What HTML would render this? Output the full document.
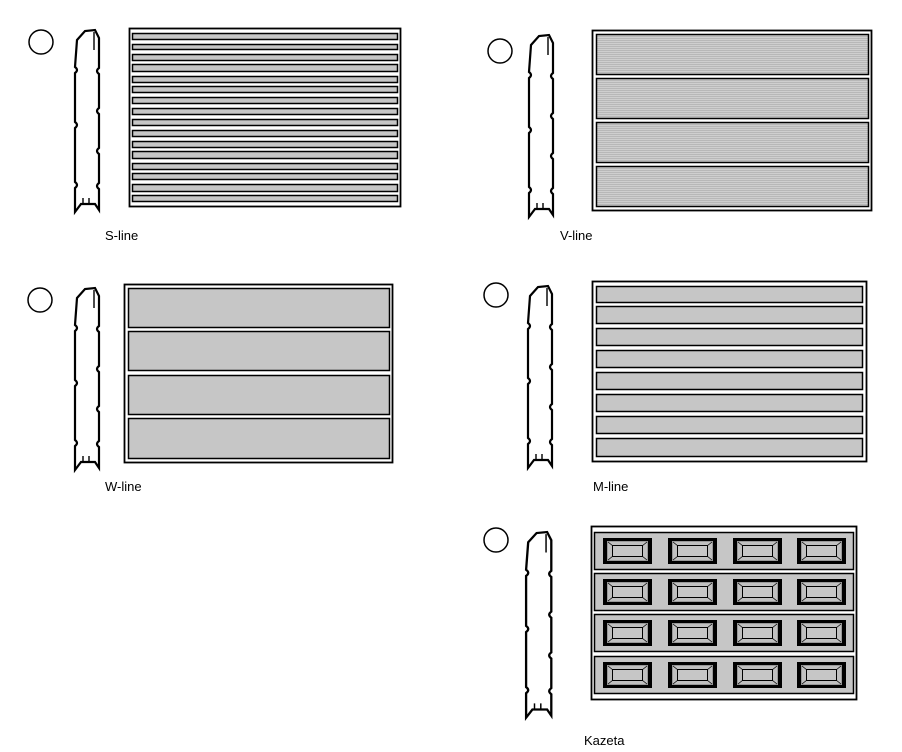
<!DOCTYPE html>
<html><head><style>
html,body{margin:0;padding:0;background:#fff;}
svg{display:block}
text{font-family:"Liberation Sans",sans-serif;font-size:13px;fill:#000}
</style></head><body>
<svg width="902" height="752" viewBox="0 0 902 752" xmlns="http://www.w3.org/2000/svg">
<defs>
<pattern id="ln" width="4" height="2" patternUnits="userSpaceOnUse">
<rect width="4" height="2" fill="#cfcfcf"/><rect width="4" height="1" fill="#b8b8b8"/>
</pattern>
<g id="prof">
<path d="M4,12 L12,3 L22,2 L26,10 L26,40 q-4,3 0,6 L26,80 q-4,3 0,6 L26,120 q-4,3 0,6 L26,155 q-4,3 0,6 L26,182 L22,176 L8,176 L2,184 L2,160 q4,-3 0,-6 L2,100 q4,-3 0,-6 L2,45 q4,-3 0,-6 Z" fill="#fff" stroke="#000" stroke-width="2.2"/>
<path d="M21,4 L21,22 M10,170 L10,176 M16,170 L16,176" stroke="#000" stroke-width="1.4" fill="none"/>
</g>
</defs>
<g fill="#fff" stroke="#000" stroke-width="1.5">
<circle cx="41" cy="42" r="12"/><circle cx="500" cy="51" r="12"/>
<circle cx="40" cy="300" r="12"/><circle cx="496" cy="295" r="12"/>
<circle cx="496" cy="540" r="12"/>
</g>
<use href="#prof" transform="translate(73,28)"/>
<use href="#prof" transform="translate(527,33)"/>
<use href="#prof" transform="translate(73,286)"/>
<use href="#prof" transform="translate(526,284)"/>
<use href="#prof" transform="translate(524,530) scale(1.05,1.02)"/>
<!-- S-line -->
<rect x="129.5" y="28.5" width="271" height="178" fill="#fff" stroke="#000" stroke-width="1.8"/>
<g fill="#c6c6c6" stroke="#000" stroke-width="1.5">
<rect x="132.5" y="33.5" width="265" height="6"/><rect x="132.5" y="44.5" width="265" height="5"/>
<rect x="132.5" y="54.5" width="265" height="6"/><rect x="132.5" y="64.5" width="265" height="7"/>
<rect x="132.5" y="76.5" width="265" height="6"/><rect x="132.5" y="86.5" width="265" height="6"/>
<rect x="132.5" y="97.5" width="265" height="6"/><rect x="132.5" y="108.5" width="265" height="6"/>
<rect x="132.5" y="119.5" width="265" height="6"/><rect x="132.5" y="130.5" width="265" height="6"/>
<rect x="132.5" y="141.5" width="265" height="6"/><rect x="132.5" y="151.5" width="265" height="7"/>
<rect x="132.5" y="163.5" width="265" height="6"/><rect x="132.5" y="173.5" width="265" height="6"/>
<rect x="132.5" y="184.5" width="265" height="7"/><rect x="132.5" y="195.5" width="265" height="6"/>
</g>
<!-- V-line -->
<rect x="592.5" y="30.5" width="279" height="180" fill="#fff" stroke="#000" stroke-width="1.8"/>
<g fill="url(#ln)" stroke="#000" stroke-width="1.5">
<rect x="596.5" y="34.5" width="272" height="40"/><rect x="596.5" y="78.5" width="272" height="40"/>
<rect x="596.5" y="122.5" width="272" height="40"/><rect x="596.5" y="166.5" width="272" height="40"/>
</g>
<!-- W-line -->
<rect x="124.5" y="284.5" width="268" height="178" fill="#fff" stroke="#000" stroke-width="1.8"/>
<g fill="#c6c6c6" stroke="#000" stroke-width="1.5">
<rect x="128.5" y="288.5" width="261" height="39"/><rect x="128.5" y="331.5" width="261" height="39"/>
<rect x="128.5" y="375.5" width="261" height="39"/><rect x="128.5" y="418.5" width="261" height="40"/>
</g>
<!-- M-line -->
<rect x="592.5" y="281.5" width="274" height="180" fill="#fff" stroke="#000" stroke-width="1.8"/>
<g fill="#c6c6c6" stroke="#000" stroke-width="1.5">
<rect x="596.5" y="286.5" width="266" height="16"/><rect x="596.5" y="306.5" width="266" height="17"/>
<rect x="596.5" y="328.5" width="266" height="17"/><rect x="596.5" y="350.5" width="266" height="17"/>
<rect x="596.5" y="372.5" width="266" height="17"/><rect x="596.5" y="394.5" width="266" height="17"/>
<rect x="596.5" y="416.5" width="266" height="17"/><rect x="596.5" y="438.5" width="266" height="18"/>
</g>
<!-- Kazeta -->
<rect x="591.5" y="526.5" width="265" height="173" fill="#fff" stroke="#000" stroke-width="1.8"/>
<g id="krow">
<rect x="594.5" y="532.5" width="259" height="37" fill="#c6c6c6" stroke="#000" stroke-width="1.5"/>
<g id="kc">
<rect x="603" y="538" width="49" height="26" fill="#000"/>
<rect x="607.5" y="541.5" width="40" height="19" fill="#c0c0c0" stroke="#999" stroke-width="1"/>
<rect x="612.5" y="545.5" width="30" height="11" fill="#c6c6c6" stroke="#000" stroke-width="1"/>
<path d="M608,542 L613,546 M647,542 L642,546 M608,560 L613,556 M647,560 L642,556" stroke="#000" stroke-width="0.8"/>
</g>
<use href="#kc" x="65"/><use href="#kc" x="130"/><use href="#kc" x="194"/>
</g>
<use href="#krow" y="41"/><use href="#krow" y="82"/><use href="#krow" y="124"/>
<text x="105" y="240">S-line</text>
<text x="560" y="240">V-line</text>
<text x="105" y="491">W-line</text>
<text x="593" y="491">M-line</text>
<text x="584" y="745">Kazeta</text>
</svg>
</body></html>
